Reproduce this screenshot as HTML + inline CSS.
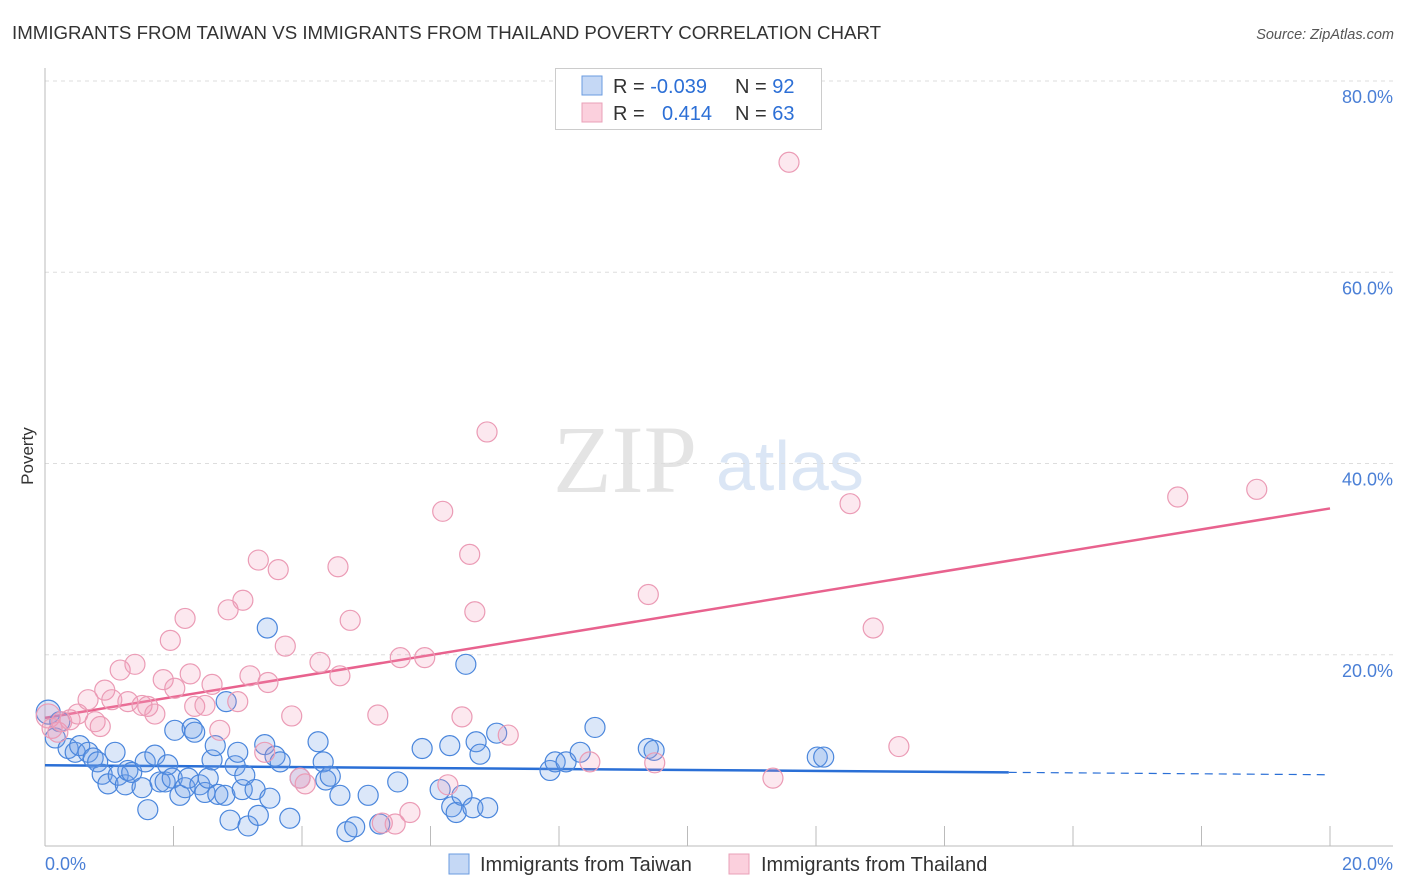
<!DOCTYPE html>
<html><head><meta charset="utf-8"><style>
body{margin:0;background:#fff;font-family:"Liberation Sans",sans-serif;}
svg{display:block}
</style></head><body>
<svg id="chart" width="1406" height="892">
<text x="12" y="39" font-size="18.7" fill="#333">IMMIGRANTS FROM TAIWAN VS IMMIGRANTS FROM THAILAND POVERTY CORRELATION CHART</text>
<text x="1394" y="39" font-size="14.5" fill="#555" font-style="italic" text-anchor="end">Source: ZipAtlas.com</text>
<text x="33" y="456" font-size="17" fill="#333" text-anchor="middle" transform="rotate(-90 33 456)">Poverty</text>
<g>
<text x="553" y="492" font-family="Liberation Serif,serif" font-size="96" fill="#e4e4e4">ZIP</text>
<text x="716" y="490" font-size="70" fill="#dbe6f5">atlas</text>
</g>
<g id="grid"></g>
<g id="axes"></g>
<g id="trend"></g>
<g id="pts"></g>
<g>
<rect x="555.5" y="68.5" width="266" height="61" fill="#fff" stroke="#ccc"/>
<rect x="582" y="76" width="20" height="19" fill="#c5d8f5" stroke="#6a9be0"/>
<rect x="582" y="103" width="20" height="19" fill="#fbd0dd" stroke="#eaa0b8"/>
<text x="613" y="93" font-size="20" fill="#333">R = <tspan fill="#2c6fd6">-0.039</tspan></text>
<text x="735" y="93" font-size="20" fill="#333">N = <tspan fill="#2c6fd6">92</tspan></text>
<text x="613" y="120" font-size="20" fill="#333">R = </text>
<text x="662" y="120" font-size="20" fill="#2c6fd6">0.414</text>
<text x="735" y="120" font-size="20" fill="#333">N = <tspan fill="#2c6fd6">63</tspan></text>
</g>
<g>
<rect x="449" y="854" width="20" height="20" fill="#c5d8f5" stroke="#6a9be0"/>
<text x="480" y="871" font-size="20" fill="#333">Immigrants from Taiwan</text>
<rect x="729" y="854" width="20" height="20" fill="#fbd0dd" stroke="#eaa0b8"/>
<text x="761" y="871" font-size="20" fill="#333">Immigrants from Thailand</text>
</g>
</svg>
<script>
const yTicks=[20,40,60,80];
const xTickLabels=["0.0%","20.0%"];
const blueX=[.05,.16,.23,.36,.47,.54,.67,.75,.82,.89,.98,1.09,1.14,1.25,1.29,1.35,1.51,1.56,1.60,1.71,1.79,1.87,1.91,1.98,2.02,2.10,2.18,2.23,2.29,2.33,2.41,2.49,2.54,2.60,2.65,2.69,2.80,2.82,2.88,2.96,3.00,3.07,3.11,3.16,3.27,3.32,3.42,3.46,3.50,3.58,3.66,3.81,3.97,4.25,4.33,4.37,4.44,4.59,4.70,4.82,5.03,5.21,5.49,5.87,6.15,6.30,6.33,6.40,6.49,6.55,6.66,6.71,6.77,6.89,7.03,7.86,7.94,8.11,8.33,8.56,9.39,9.48,12.02,12.12];
const blueY=[14.0,11.3,13.0,10.2,9.8,10.5,9.8,9.2,8.8,7.5,6.5,9.8,7.4,6.4,7.9,7.7,6.1,8.8,3.8,9.5,6.7,6.7,8.5,7.1,12.1,5.3,6.1,7.1,12.3,11.9,6.4,5.6,7.1,9.0,10.5,5.4,5.3,15.1,2.7,8.4,9.8,5.9,7.4,2.1,5.9,3.2,10.6,22.8,5.0,9.4,8.8,2.9,7.1,10.9,8.8,6.9,7.3,5.3,1.5,2.0,5.3,2.3,6.7,10.2,5.9,10.5,4.1,3.5,5.3,19.0,4.0,10.9,9.6,4.0,11.8,7.9,8.8,8.8,9.8,12.4,10.2,10.0,9.3,9.3];
const pinkX=[.05,.11,.20,.26,.39,.51,.67,.78,.86,.93,1.04,1.17,1.29,1.40,1.51,1.60,1.71,1.84,1.95,2.02,2.18,2.26,2.33,2.49,2.60,2.72,2.85,3.00,3.08,3.19,3.32,3.42,3.47,3.63,3.74,3.84,3.97,4.05,4.28,4.56,4.59,4.75,5.18,5.25,5.45,5.53,5.68,5.91,6.19,6.27,6.49,6.61,6.69,6.88,7.21,8.48,9.39,9.49,11.33,11.58,12.53,12.89,13.29,17.63,18.86];
const pinkY=[13.6,12.3,11.9,13.0,13.2,13.8,15.3,13.0,12.5,16.3,15.3,18.4,15.1,19.0,14.7,14.6,13.8,17.4,21.5,16.5,23.8,18.0,14.6,14.7,16.9,12.1,24.7,15.1,25.7,17.8,29.9,9.8,17.1,28.9,20.9,13.6,7.1,6.5,19.2,29.2,17.8,23.6,13.7,2.4,2.3,19.7,3.5,19.7,35.0,6.4,13.5,30.5,24.5,43.3,11.6,8.8,26.3,8.7,7.1,71.5,35.8,22.8,10.4,36.5,37.3];
const blueTrend=[8.45,7.45];
const pinkTrend=[13.4,35.3];
const NS="http://www.w3.org/2000/svg";
const X0=45,X1=1330,Y0=846,Y80=81;
function sx(v){return X0+(X1-X0)*v/20;}
function sy(v){return Y0-(Y0-Y80)*v/80;}
function mk(tag,attrs,parent){const e=document.createElementNS(NS,tag);for(const k in attrs)e.setAttribute(k,attrs[k]);parent.appendChild(e);return e;}
const grid=document.getElementById('grid');
yTicks.forEach(t=>{
 const l=mk('line',{x1:X0,x2:1393,y1:sy(t),y2:sy(t),stroke:'#ddd','stroke-dasharray':'4,4'},grid);
 
 
 const tx=mk('text',{x:1393,y:sy(t)+22,'font-size':18,fill:'#4a7fd6','text-anchor':'end'},grid);
 tx.textContent=t.toFixed(1)+'%';
 
 
});
const axes=document.getElementById('axes');
mk('line',{x1:X0,x2:X0,y1:68,y2:Y0,stroke:'#bbb'},axes);
mk('line',{x1:X0,x2:1393,y1:Y0,y2:Y0,stroke:'#bbb'},axes);
for(let i=1;i<=10;i++){const x=sx(i*2);mk('line',{x1:x,x2:x,y1:826,y2:Y0,stroke:'#bbb'},axes);}
[0,20].forEach((v,i)=>{
 const t=mk('text',{x:i?1393:45,y:870,'font-size':18,fill:'#4a7fd6','text-anchor':i?'end':'start'},axes);
 t.textContent=xTickLabels[i];
 
 
});
const pts=document.getElementById('pts');
blueX.forEach((x,i)=>{
 const c=mk('circle',{cx:sx(x),cy:sy(blueY[i]),r:i==0?12:10,fill:'rgba(110,160,230,0.25)',stroke:'#4a86dc','stroke-width':1.2},pts);
 
 
});
pinkX.forEach((x,i)=>{
 const c=mk('circle',{cx:sx(x),cy:sy(pinkY[i]),r:i==0?12:10,fill:'rgba(240,150,180,0.22)',stroke:'#eb9bb5','stroke-width':1.2},pts);
 
 
});
const tr=document.getElementById('trend');
const bmid=blueTrend[0]+(blueTrend[1]-blueTrend[0])*0.75;
const b1=mk('line',{x1:sx(0),y1:sy(blueTrend[0]),x2:sx(15),y2:sy(bmid),stroke:'#2a6fd6','stroke-width':2.5},tr);


const b2=mk('line',{x1:sx(15),y1:sy(bmid),x2:sx(20),y2:sy(blueTrend[1]),stroke:'#2a6fd6','stroke-width':1.2,'stroke-dasharray':'8,6'},tr);


const p1=mk('line',{x1:sx(0),y1:sy(pinkTrend[0]),x2:sx(20),y2:sy(pinkTrend[1]),stroke:'#e8628e','stroke-width':2.5},tr);


</script>
</body></html>
